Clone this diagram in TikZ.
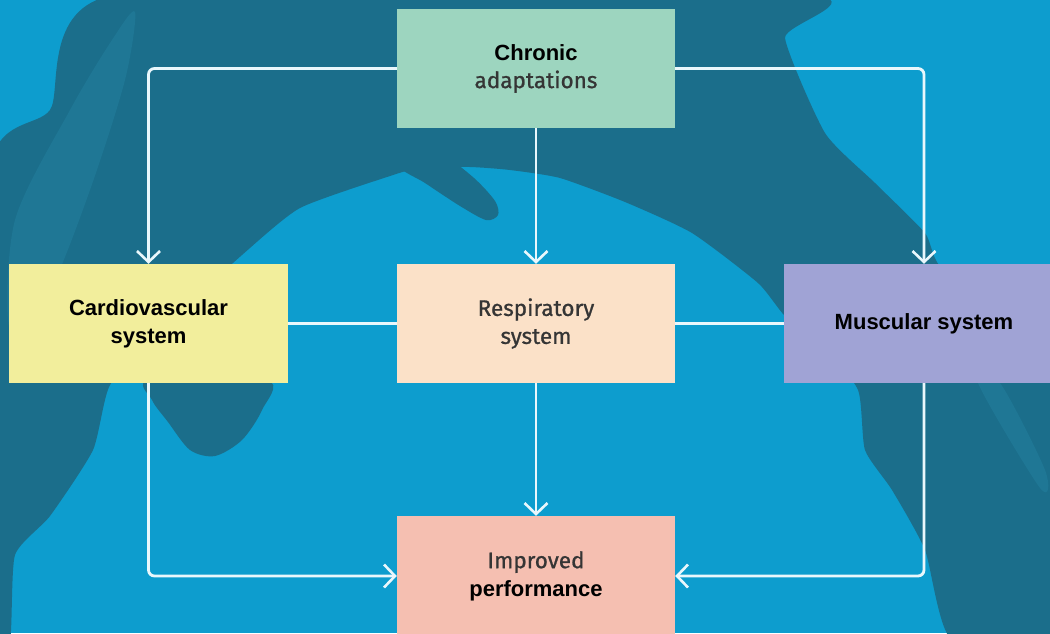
\documentclass[tikz,border=0pt]{standalone}
\usepackage{fontspec}
\setmainfont{Liberation Sans}
\newfontfamily\dinfont{Fira Sans}[FakeBold=0.9]
\usetikzlibrary{arrows.meta}

\definecolor{sea}{HTML}{0D9DCE}
\definecolor{shade}{HTML}{1B6E8B}
\definecolor{midshade}{HTML}{1F7795}
\definecolor{mint}{HTML}{9DD5BF}
\definecolor{lemon}{HTML}{F2EE9C}
\definecolor{peach}{HTML}{FBE1C8}
\definecolor{lavender}{HTML}{A0A3D5}
\definecolor{salmon}{HTML}{F5BFB1}
\definecolor{softtext}{HTML}{353535}
\definecolor{link}{HTML}{E9F7FC}

\tikzset{
  box/.style={draw=none, minimum width=278pt, minimum height=119pt,
    inner sep=0pt, align=center, text=black,
    font=\fontsize{22}{28}\selectfont},
  flow/.style={draw=link, line width=2.8pt, rounded corners=6pt,
    -{Straight Barb[length=11pt, width=23pt, line width=2.6pt]}},
  tie/.style={draw=link, line width=2.8pt},
  figure/.style={fill=shade},
  figlight/.style={fill=midshade},
}
\newcommand{\softline}[1]{{\dinfont\fontsize{22.5}{28}\selectfont\color{softtext}#1}}

\begin{document}
\begin{tikzpicture}[x=1pt, y=-1pt]
  \useasboundingbox (0,0) rectangle (1050,633);
  \clip (0,0) rectangle (1050,633);

  % backdrop: blue water with the swimmer's dark silhouette
  \fill[sea] (0,0) rectangle (1050,633);
  \fill[figure] plot[smooth cycle, tension=0.35] coordinates {
    (115,-5) (808,-5) (785,38) (825,133) (875,183) (925,233) (945,270)
    (1060,300) (1060,640) (952,640) (925,550) (892,490) (865,450)
    (858,390) (820,340) (785,316) (758,283) (692,233) (625,202)
    (560,178) (510,170) (470,167) (420,168) (390,176) (300,208)
    (242,255) (160,330) (110,385) (93,450) (50,516) (15,555) (10,640)
    (-10,640) (-10,170) (50,110)};
  % lighter band along the shoulder
  \fill[figlight] plot[smooth cycle, tension=0.5] coordinates {
    (70,110) (112,40) (135,12) (125,80) (90,190) (50,290) (10,330)
    (15,220)};
  % hand reaching toward the centre
  \fill[figure] plot[smooth cycle, tension=0.5] coordinates {
    (405,135) (440,152) (474,178) (495,201) (498,215) (486,220)
    (460,206) (425,183) (398,165)};
  % hand below the left box
  \fill[figure] plot[smooth cycle, tension=0.5] coordinates {
    (150,380) (267,380) (262,410) (242,440) (215,456) (190,450)
    (168,422) (152,400)};
  % lighter stripe on the legs
  \fill[figlight] plot[smooth cycle, tension=0.5] coordinates {
    (978,383) (1000,383) (1045,470) (1040,488)};

  % boxes
  \node[box, fill=mint] (chronic) at (536,68.5)
    {{\bfseries Chronic}\\\softline{adaptations}};
  \node[box, fill=lemon, minimum width=279pt] (cardio) at (148.5,323.5)
    {\bfseries Cardiovascular\\\bfseries system};
  \node[box, fill=peach] (resp) at (536,323.5)
    {\softline{Respiratory}\\\softline{system}};
  \node[box, fill=lavender, minimum width=280pt] (musc) at (924,323.5)
    {\bfseries Muscular system};
  \node[box, fill=salmon, minimum height=120pt] (perf) at (536,576)
    {\softline{Improved}\\{\bfseries performance}};

  % side links without arrowheads
  \draw[tie] (cardio.east) -- (resp.west);
  \draw[tie] (resp.east) -- (musc.west);

  % flows
  \draw[flow] (chronic.west) -| (cardio.north);
  \draw[flow] (chronic.east) -| (musc.north);
  \draw[flow] (chronic.south) -- (resp.north);
  \draw[flow] (resp.south) -- (perf.north);
  \draw[flow] (cardio.south) |- (perf.west);
  \draw[flow] (musc.south) |- (perf.east);
\end{tikzpicture}
\end{document}
